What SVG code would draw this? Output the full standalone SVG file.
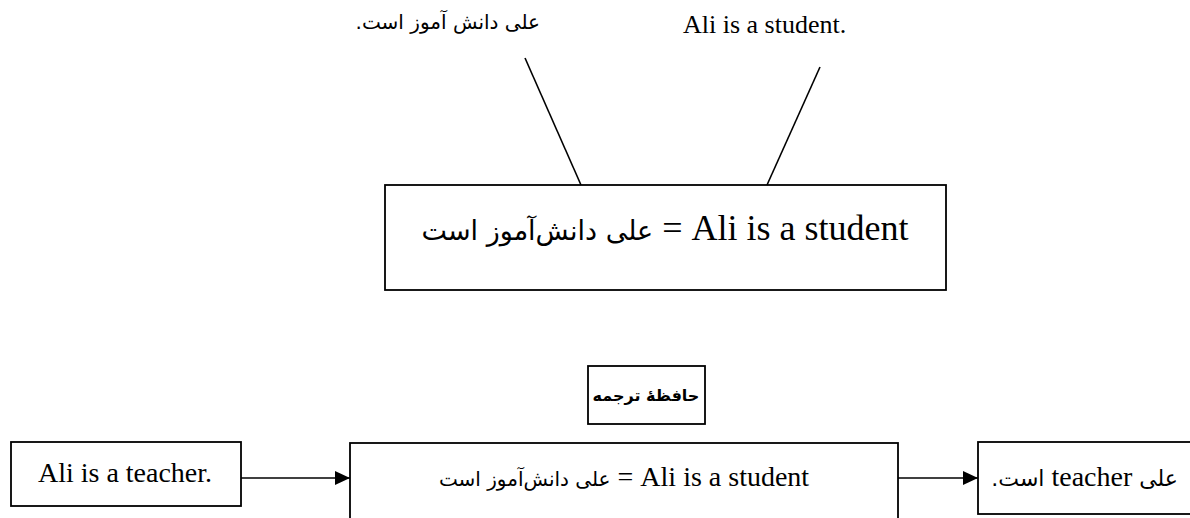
<svg xmlns="http://www.w3.org/2000/svg" width="1190" height="518" viewBox="0 0 1190 518">
<style>
text{font-family:"Liberation Serif","DejaVu Sans",serif;fill:#000}
.fa{font-family:"DejaVu Sans","Liberation Serif",sans-serif}
.box{fill:#fff;stroke:#000;stroke-width:1.8}
.ln{stroke:#000;stroke-width:1.6;fill:none}
</style>
<defs>
<marker id="ah" markerWidth="15" markerHeight="14" refX="15" refY="7" orient="auto" markerUnits="userSpaceOnUse">
<path d="M0,0 L15,7 L0,14 Z" fill="#000"/>
</marker>
</defs>
<rect width="1190" height="518" fill="#fff"/>
<g id="label-fa">
<text class="fa" x="540" y="29" font-size="20" direction="rtl" text-anchor="start">علی دانش آموز است.</text>
</g>
<g id="label-en">
<text x="683" y="33" font-size="26">Ali is a student.</text>
</g>
<g id="main-box">
<rect class="box" x="385" y="185" width="561" height="105"/>
<text x="665" y="240" text-anchor="middle"><tspan class="fa" font-size="27">علی دانش‌آموز است</tspan><tspan font-size="36"> = Ali is a student</tspan></text>
</g>
<g id="tm-label">
<rect class="box" x="588" y="366" width="117" height="58"/>
<text class="fa" x="646" y="401" font-size="16" font-weight="bold" text-anchor="middle" direction="rtl">حافظهٔ ترجمه</text>
</g>
<g id="input">
<rect class="box" x="11" y="442" width="230" height="64"/>
<text x="125" y="482" font-size="28" text-anchor="middle">Ali is a teacher.</text>
</g>
<g id="memory">
<rect class="box" x="350" y="443" width="548" height="80"/>
<text x="624" y="486" text-anchor="middle"><tspan class="fa" font-size="20">علی دانش‌آموز است</tspan><tspan font-size="28"> = Ali is a student</tspan></text>
</g>
<g id="output">
<rect class="box" x="978" y="442" width="220" height="72"/>
<text x="1178" y="486" direction="rtl" text-anchor="start"><tspan class="fa" font-size="22">علی </tspan><tspan font-size="28">teacher</tspan><tspan class="fa" font-size="22"> است.</tspan></text>
</g>
<g id="connectors">
<line class="ln" x1="525" y1="58" x2="581" y2="185"/>
<line class="ln" x1="820" y1="67" x2="767" y2="185"/>
<line class="ln" x1="241" y1="478" x2="350" y2="478" marker-end="url(#ah)"/>
<line class="ln" x1="898" y1="478" x2="978" y2="478" marker-end="url(#ah)"/>
</g>
</svg>
